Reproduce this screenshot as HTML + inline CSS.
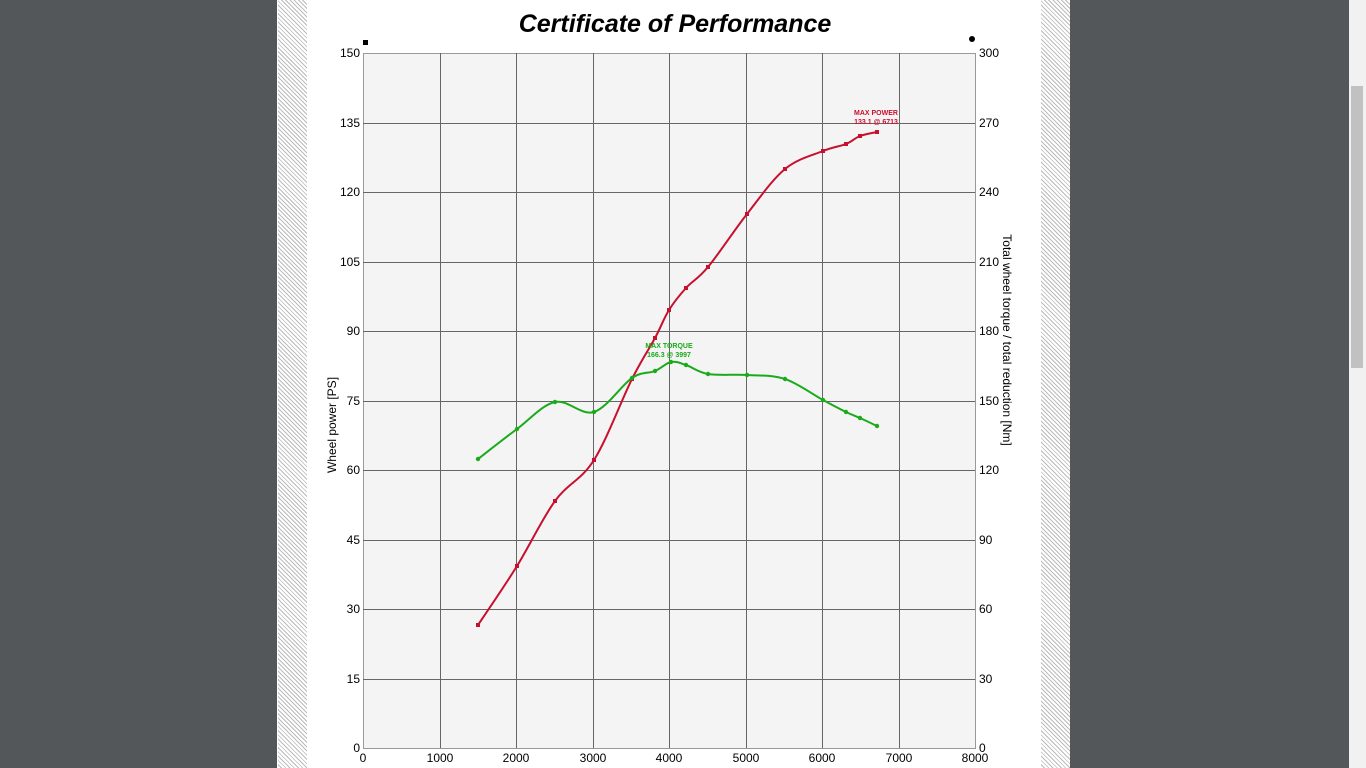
<!DOCTYPE html>
<html><head><style>
body{margin:0;width:1366px;height:768px;background:#535759;overflow:hidden;font-family:"Liberation Sans",sans-serif;position:relative}
.pg{position:absolute;left:277px;top:0;width:793px;height:768px;background:#fff}
.h{position:absolute;top:0;height:768px;width:29px;background:repeating-linear-gradient(45deg,#fff 0 2px,#bbb 2px 3px)}
.sb{position:absolute;left:1349px;top:0;width:17px;height:768px;background:#f1f1f1}
.th{position:absolute;left:1351px;top:86px;width:12px;height:282px;background:#c1c1c1}
</style></head><body>
<div class="pg"></div>
<div class="h" style="left:278px"></div>
<div class="h" style="left:1041px"></div>
<div class="sb"></div><div class="th"></div>
<svg width="1366" height="768" style="position:absolute;left:0;top:0" font-family="Liberation Sans, sans-serif">
<text x="675" y="32" text-anchor="middle" font-size="25" font-weight="bold" font-style="italic">Certificate of Performance</text>
<rect x="363.5" y="53.5" width="612" height="695" fill="#f4f4f4" stroke="#999"/>
<g stroke="#666" stroke-width="1" shape-rendering="crispEdges">
<line x1="440.5" y1="53" x2="440.5" y2="748"/><line x1="516.5" y1="53" x2="516.5" y2="748"/><line x1="593.5" y1="53" x2="593.5" y2="748"/><line x1="669.5" y1="53" x2="669.5" y2="748"/><line x1="746.5" y1="53" x2="746.5" y2="748"/><line x1="822.5" y1="53" x2="822.5" y2="748"/><line x1="899.5" y1="53" x2="899.5" y2="748"/>
<line x1="363" y1="123.5" x2="975" y2="123.5"/><line x1="363" y1="192.5" x2="975" y2="192.5"/><line x1="363" y1="262.5" x2="975" y2="262.5"/><line x1="363" y1="331.5" x2="975" y2="331.5"/><line x1="363" y1="401.5" x2="975" y2="401.5"/><line x1="363" y1="470.5" x2="975" y2="470.5"/><line x1="363" y1="540.5" x2="975" y2="540.5"/><line x1="363" y1="609.5" x2="975" y2="609.5"/><line x1="363" y1="679.5" x2="975" y2="679.5"/>
</g>
<g font-size="12" text-anchor="end">
<text x="360" y="57">150</text><text x="360" y="127">135</text><text x="360" y="196">120</text><text x="360" y="266">105</text><text x="360" y="335">90</text><text x="360" y="405">75</text><text x="360" y="474">60</text><text x="360" y="544">45</text><text x="360" y="613">30</text><text x="360" y="683">15</text><text x="360" y="752">0</text>
</g>
<g font-size="12">
<text x="979" y="57">300</text><text x="979" y="127">270</text><text x="979" y="196">240</text><text x="979" y="266">210</text><text x="979" y="335">180</text><text x="979" y="405">150</text><text x="979" y="474">120</text><text x="979" y="544">90</text><text x="979" y="613">60</text><text x="979" y="683">30</text><text x="979" y="752">0</text>
</g>
<g font-size="12" text-anchor="middle">
<text x="363" y="762">0</text><text x="440" y="762">1000</text><text x="516" y="762">2000</text><text x="593" y="762">3000</text><text x="669" y="762">4000</text><text x="746" y="762">5000</text><text x="822" y="762">6000</text><text x="899" y="762">7000</text><text x="975" y="762">8000</text>
</g>
<text transform="translate(336,425) rotate(-90)" font-size="12" text-anchor="middle">Wheel power [PS]</text>
<text transform="translate(1003,340) rotate(90)" font-size="12" text-anchor="middle">Total wheel torque / total reduction [Nm]</text>
<rect x="363" y="40" width="5" height="5" fill="#000"/>
<circle cx="972" cy="39" r="3" fill="#000"/>
<path fill="none" stroke="#c8102e" stroke-width="2" d="M478,625 C484.5,615.2 504.2,586.7 517,566 C529.8,545.3 542.2,518.7 555,501 C567.8,483.3 581.2,480.3 594,460 C606.8,439.7 621.8,399.3 632,379 C642.2,358.7 648.8,349.5 655,338 C661.2,326.5 663.8,318.3 669,310 C674.2,301.7 679.5,295.2 686,288 C692.5,280.8 697.8,279.3 708,267 C718.2,254.7 734.2,230.3 747,214 C759.8,197.7 772.3,179.5 785,169 C797.7,158.5 812.8,155.2 823,151 C833.2,146.8 839.8,146.5 846,144 C852.2,141.5 854.8,138 860,136 C865.2,134 874.2,132.7 877,132"/>
<g fill="#c8102e"><rect x="476" y="623" width="4" height="4"/><rect x="515" y="564" width="4" height="4"/><rect x="553" y="499" width="4" height="4"/><rect x="592" y="458" width="4" height="4"/><rect x="630" y="377" width="4" height="4"/><rect x="653" y="336" width="4" height="4"/><rect x="667" y="308" width="4" height="4"/><rect x="684" y="286" width="4" height="4"/><rect x="706" y="265" width="4" height="4"/><rect x="745" y="212" width="4" height="4"/><rect x="783" y="167" width="4" height="4"/><rect x="821" y="149" width="4" height="4"/><rect x="844" y="142" width="4" height="4"/><rect x="858" y="134" width="4" height="4"/><rect x="875" y="130" width="4" height="4"/></g>
<path fill="none" stroke="#1aaa1a" stroke-width="2" d="M478,459 C484.5,454 504.2,438.5 517,429 C529.8,419.5 542.2,404.8 555,402 C567.8,399.2 581.2,416 594,412 C606.8,408 621.8,384.8 632,378 C642.2,371.2 648.5,373.7 655,371 C661.5,368.3 665.8,363 671,362 C676.2,361 679.8,363 686,365 C692.2,367 697.8,372.3 708,374 C718.2,375.7 734.2,374.2 747,375 C759.8,375.8 772.3,374.8 785,379 C797.7,383.2 812.8,394.5 823,400 C833.2,405.5 839.8,409 846,412 C852.2,415 854.8,415.7 860,418 C865.2,420.3 874.2,424.7 877,426"/>
<g fill="#1aaa1a"><circle cx="478" cy="459" r="2.2"/><circle cx="517" cy="429" r="2.2"/><circle cx="555" cy="402" r="2.2"/><circle cx="594" cy="412" r="2.2"/><circle cx="632" cy="378" r="2.2"/><circle cx="655" cy="371" r="2.2"/><circle cx="671" cy="362" r="2.2"/><circle cx="686" cy="365" r="2.2"/><circle cx="708" cy="374" r="2.2"/><circle cx="747" cy="375" r="2.2"/><circle cx="785" cy="379" r="2.2"/><circle cx="823" cy="400" r="2.2"/><circle cx="846" cy="412" r="2.2"/><circle cx="860" cy="418" r="2.2"/><circle cx="877" cy="426" r="2.2"/></g>
<g font-size="7" font-weight="bold" fill="#1aaa1a" text-anchor="middle"><text x="669" y="348">MAX TORQUE</text><text x="669" y="357">166.3 @ 3997</text></g>
<g font-size="7" font-weight="bold" fill="#c8102e" text-anchor="middle"><text x="876" y="115">MAX POWER</text><text x="876" y="124">133.1 @ 6713</text></g>
</svg>
</body></html>
